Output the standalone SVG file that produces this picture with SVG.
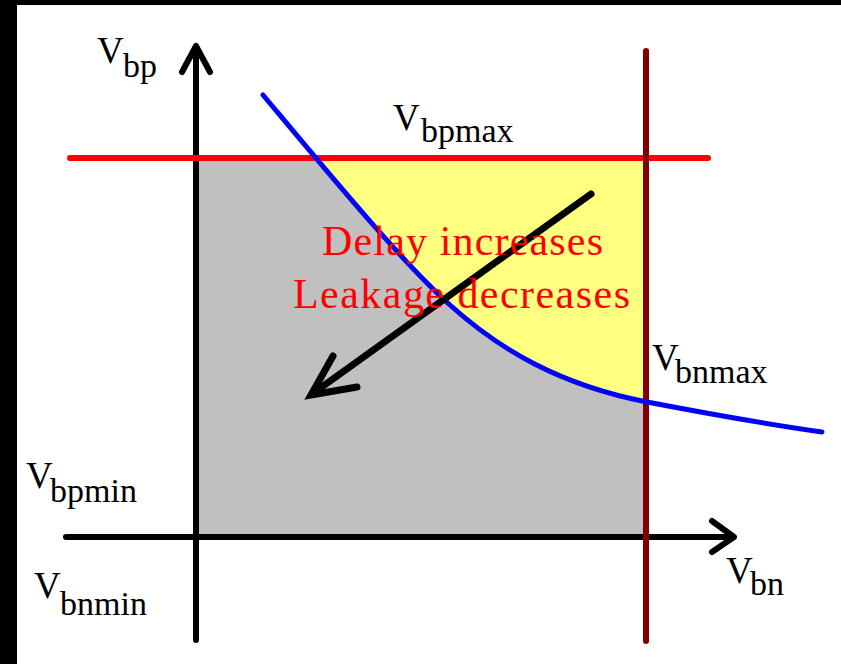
<svg xmlns="http://www.w3.org/2000/svg" width="841" height="664" viewBox="0 0 841 664">
  <style>
    .lbl { font-family: "Liberation Serif", "Times New Roman", serif; fill: #000; }
    .v { font-size: 37px; }
    .sub { font-size: 34px; }
    .red { font-family: "Liberation Serif", "Times New Roman", serif; font-size: 42px; fill: #FF0000; }
    .axis { stroke: #000; stroke-width: 6; fill: none; stroke-linecap: round; stroke-linejoin: round; }
  </style>
  <defs>
    <clipPath id="box">
      <rect x="199" y="161" width="444" height="373"/>
    </clipPath>
  </defs>
  <rect x="0" y="0" width="841" height="664" fill="#FFFFFF"/>
  <rect x="0" y="0" width="841" height="5" fill="#000"/>
  <rect x="0" y="0" width="17" height="664" fill="#000"/>

  <g id="regions">
    <rect id="gray-region" x="199" y="161" width="444" height="373" fill="#C0C0C0"/>
    <path id="yellow-region" clip-path="url(#box)" fill="#FFFF80" d="M263,95 C330,175 400,260 450,305 C500,350 560,385 647,402 L700,402 L700,90 L263,90 Z"/>
  </g>

  <g id="connectors">
    <g id="y-axis">
      <line class="axis" x1="196" y1="47" x2="196" y2="640"/>
      <polyline class="axis" points="182,72 196,46 210,72"/>
    </g>
    <g id="x-axis">
      <line class="axis" x1="66" y1="537" x2="733" y2="537"/>
      <polyline class="axis" points="712,521 734,537 712,552"/>
    </g>
    <line id="vbpmax-line" x1="70" y1="158" x2="708" y2="158" stroke="#FF0000" stroke-width="6" stroke-linecap="round"/>
    <line id="vbnmax-line" x1="646" y1="51" x2="646" y2="641" stroke="#800000" stroke-width="6" stroke-linecap="round"/>
    <path id="curve" d="M263,95 C330,175 400,260 450,305 C500,350 560,385 647,402 C720,416 780,426 822,432" fill="none" stroke="#0000FF" stroke-width="5" stroke-linecap="round"/>
    <g id="trend-arrow">
      <line x1="591" y1="194" x2="312" y2="394" stroke="#000" stroke-width="7" stroke-linecap="round"/>
      <polyline points="333,356 311,395 357,387" fill="none" stroke="#000" stroke-width="7" stroke-linecap="round" stroke-linejoin="miter"/>
    </g>
  </g>

  <g id="label-vbp" class="lbl">
    <text x="97" y="63"><tspan class="v">V</tspan><tspan class="sub" x="123" y="77">bp</tspan></text>
  </g>
  <g id="label-vbpmax" class="lbl">
    <text x="393" y="130"><tspan class="v">V</tspan><tspan class="sub" x="421" y="142">bpmax</tspan></text>
  </g>
  <g id="label-vbpmin" class="lbl">
    <text x="26" y="488"><tspan class="v">V</tspan><tspan class="sub" x="50" y="502">bpmin</tspan></text>
  </g>
  <g id="label-vbnmin" class="lbl">
    <text x="34" y="598"><tspan class="v">V</tspan><tspan class="sub" x="60" y="615">bnmin</tspan></text>
  </g>
  <g id="label-vbnmax" class="lbl">
    <text x="652" y="370"><tspan class="v">V</tspan><tspan class="sub" x="675" y="383">bnmax</tspan></text>
  </g>
  <g id="label-vbn" class="lbl">
    <text x="726" y="583"><tspan class="v">V</tspan><tspan class="sub" x="750" y="595">bn</tspan></text>
  </g>
  <g id="label-trend">
    <text class="red" x="322" y="255" textLength="281" lengthAdjust="spacing">Delay increases</text>
    <text class="red" x="293" y="308" textLength="337" lengthAdjust="spacing">Leakage decreases</text>
  </g>
</svg>
